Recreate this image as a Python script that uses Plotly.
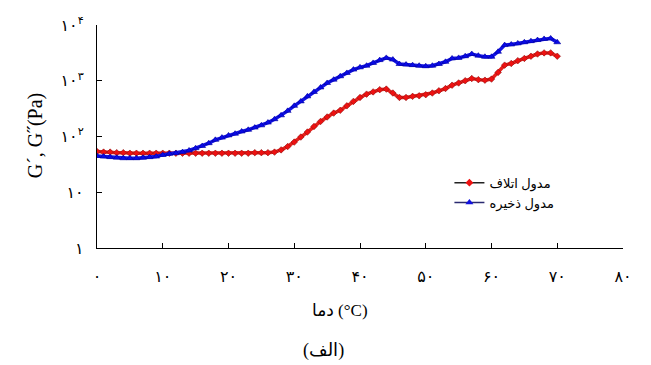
import plotly.graph_objects as go

# Temperature (°C) and moduli (Pa) read at 1 °C steps
temp = list(range(0, 71))

storage_log = [1.65, 1.64, 1.63, 1.62, 1.61, 1.61, 1.61, 1.62, 1.63, 1.64,
               1.67, 1.69, 1.70, 1.72, 1.75, 1.79, 1.83, 1.88, 1.94, 1.98,
               2.02, 2.05, 2.09, 2.12, 2.16, 2.20, 2.25, 2.31, 2.38, 2.46,
               2.55, 2.63, 2.72, 2.80, 2.88, 2.96, 3.02, 3.08, 3.14, 3.20,
               3.24, 3.27, 3.32, 3.37, 3.41, 3.38, 3.30, 3.29, 3.28, 3.27,
               3.26, 3.27, 3.30, 3.34, 3.40, 3.41, 3.44, 3.48, 3.45, 3.43,
               3.43, 3.52, 3.64, 3.65, 3.67, 3.69, 3.71, 3.73, 3.75, 3.76,
               3.69]

loss_log = [1.73, 1.72, 1.72, 1.71, 1.71, 1.70, 1.70, 1.70, 1.70, 1.70,
            1.70, 1.70, 1.70, 1.70, 1.70, 1.70, 1.70, 1.70, 1.70, 1.70,
            1.70, 1.70, 1.70, 1.70, 1.71, 1.71, 1.71, 1.72, 1.76, 1.82,
            1.90, 1.99, 2.08, 2.18, 2.27, 2.35, 2.42, 2.47, 2.55, 2.63,
            2.70, 2.76, 2.80, 2.84, 2.85, 2.78, 2.70, 2.70, 2.72, 2.73,
            2.75, 2.78, 2.82, 2.86, 2.92, 2.96, 3.00, 3.04, 3.02, 3.01,
            3.03, 3.15, 3.28, 3.31, 3.36, 3.40, 3.44, 3.48, 3.50, 3.50,
            3.44]

storage = [10 ** v for v in storage_log]
loss = [10 ** v for v in loss_log]

x_ticks = [0, 10, 20, 30, 40, 50, 60, 70, 80]
x_tick_text = ["۰", "۱۰", "۲۰", "۳۰", "۴۰", "۵۰", "۶۰", "۷۰", "۸۰"]
y_ticks = [1, 10, 100, 1000, 10000]
y_tick_text = ["۱", "۱۰", "۱۰<sup>۲</sup>", "۱۰<sup>۳</sup>", "۱۰<sup>۴</sup>"]

loss_name = "مدول اتلاف"
storage_name = "مدول ذخیره"

FONT = "Liberation Serif, DejaVu Sans, serif"

fig = go.Figure()

fig.add_trace(go.Scatter(
    x=temp, y=loss, mode="lines+markers", showlegend=False,
    line=dict(color="#e8201b", width=3.5),
    marker=dict(symbol="diamond", size=5, color="#ee1111",
                line=dict(color="#8a1010", width=0.6)),
))
fig.add_trace(go.Scatter(
    x=temp, y=storage, mode="lines+markers", showlegend=False,
    line=dict(color="#1212e6", width=3.5),
    marker=dict(symbol="triangle-up", size=6, color="#0a0ae8",
                line=dict(color="#00009a", width=0.6)),
))

# legend entries (dark connecting line with coloured marker)
fig.add_trace(go.Scatter(
    x=[None], y=[None], mode="lines+markers", name=loss_name,
    line=dict(color="#222222", width=1.5),
    marker=dict(symbol="diamond", size=6, color="#ee1111"),
))
fig.add_trace(go.Scatter(
    x=[None], y=[None], mode="lines+markers", name=storage_name,
    line=dict(color="#2a2a70", width=1.5),
    marker=dict(symbol="triangle-up", size=7, color="#1010e0"),
))

fig.update_layout(
    width=651, height=365,
    margin=dict(l=97, r=28, t=25, b=117),
    paper_bgcolor="white", plot_bgcolor="white",
    font=dict(family=FONT, size=14, color="black"),
    showlegend=True,
    legend=dict(x=0.67, y=0.36, xanchor="left", yanchor="top",
                bgcolor="rgba(0,0,0,0)", font=dict(size=13, family=FONT),
                itemwidth=30, tracegroupgap=4),
    xaxis=dict(range=[0, 80], tickvals=x_ticks, ticktext=x_tick_text,
               showline=True, linecolor="black", linewidth=1.3,
               ticks="inside", ticklen=5, tickcolor="black", tickwidth=1,
               showgrid=False, zeroline=False, ticklabelstandoff=14,
               tickfont=dict(size=16)),
    yaxis=dict(type="log", range=[0, 4], tickvals=y_ticks, ticktext=y_tick_text,
               showline=True, linecolor="black", linewidth=1.3,
               ticks="inside", ticklen=5, tickcolor="black", tickwidth=1,
               showgrid=False, zeroline=False, ticklabelstandoff=9,
               tickfont=dict(size=16)),
)

fig.add_annotation(text="G´, G˝(Pa)", xref="paper", yref="paper",
                   x=-0.118, y=0.505, xanchor="center", yanchor="middle",
                   textangle=-90, showarrow=False,
                   font=dict(size=20, family="Liberation Serif, serif"))
fig.add_annotation(text="دما (°C)", xref="paper", yref="paper",
                   x=0.462, y=-0.28, xanchor="center", yanchor="middle",
                   showarrow=False, font=dict(size=17, family=FONT))
fig.add_annotation(text="(الف)", xref="paper", yref="paper",
                   x=0.43, y=-0.46, xanchor="center", yanchor="middle",
                   showarrow=False, font=dict(size=18, family=FONT))

fig.write_html("out.html")
